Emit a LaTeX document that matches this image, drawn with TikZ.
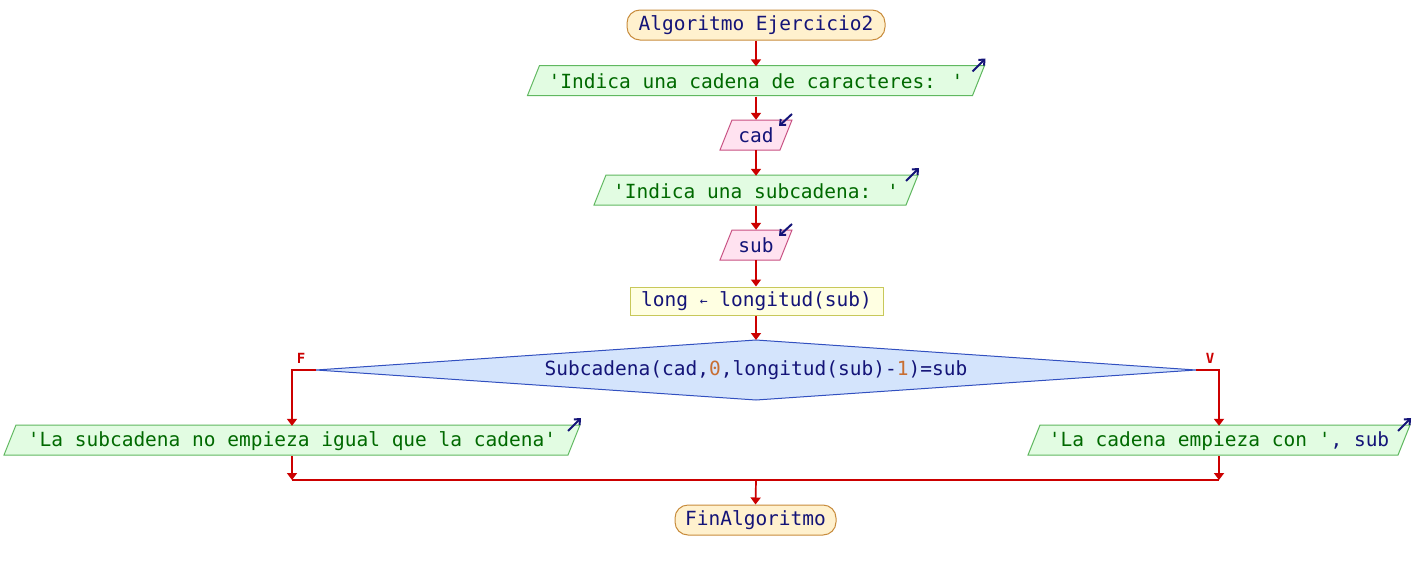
\documentclass[tikz,border=0pt]{standalone}
\usepackage{fontspec}
\newfontfamily\codefont{DejaVu Sans Mono}
\usetikzlibrary{arrows.meta}

\definecolor{termfill}{RGB}{255,241,206}
\definecolor{termdraw}{RGB}{200,140,60}
\definecolor{outfill}{RGB}{226,252,226}
\definecolor{outdraw}{RGB}{96,184,96}
\definecolor{infill}{RGB}{255,226,240}
\definecolor{indraw}{RGB}{200,80,130}
\definecolor{asgfill}{RGB}{255,255,226}
\definecolor{asgdraw}{RGB}{200,200,90}
\definecolor{decfill}{RGB}{212,228,252}
\definecolor{decdraw}{RGB}{50,80,192}
\definecolor{flowred}{RGB}{204,0,0}
\definecolor{codenavy}{RGB}{20,20,120}
\definecolor{codegreen}{RGB}{0,105,0}
\definecolor{codenum}{RGB}{200,110,50}

\tikzset{
  txt/.style={font=\codefont\fontsize{19.5}{22}\selectfont, inner sep=0pt},
  term/.style={txt, text=codenavy, draw=termdraw, fill=termfill, line width=1pt,
    rounded corners=13pt, minimum height=30pt},
  asg/.style={txt, text=codenavy, draw=asgdraw, fill=asgfill, line width=1pt,
    minimum height=28pt},
  iotext/.style={txt, minimum height=30pt},
  outbox/.style={draw=outdraw, fill=outfill, line width=1pt},
  inbox/.style={draw=indraw, fill=infill, line width=1pt},
  decision/.style={draw=decdraw, fill=decfill, line width=1pt},
  icon/.style={draw=codenavy, line width=2pt, -{Straight Barb[length=4.5pt,width=8pt]}},
  wire/.style={draw=flowred, line width=1.7pt},
  flow/.style={wire, -{Triangle[length=7pt,width=10pt]}},
  branch/.style={font=\codefont\bfseries\fontsize{14}{14}\selectfont, text=flowred, inner sep=0pt}
}

% output parallelogram: name, cx, cy, half width, text
\newcommand\outshape[5]{%
  \path[outbox] (#2-#4-6,#3+15) -- (#2-#4+6,#3-15) -- (#2+#4+6,#3-15) -- (#2+#4-6,#3+15) -- cycle;
  \node[iotext, minimum width=2*#4] (#1) at (#2,#3+1) {#5};
  \draw[icon] (#2+#4-6,#3-9) -- (#2+#4+7,#3-22);
}
% input parallelogram: name, cx, cy, half width, text
\newcommand\inshape[5]{%
  \path[inbox] (#2-#4-6,#3+15) -- (#2-#4+6,#3-15) -- (#2+#4+6,#3-15) -- (#2+#4-6,#3+15) -- cycle;
  \node[iotext, text=codenavy, minimum width=2*#4] (#1) at (#2,#3) {#5};
  \draw[icon] (#2+#4+6,#3-21) -- (#2+#4-7,#3-9);
}

\begin{document}
\begin{tikzpicture}[x=1pt,y=-1pt]
  \useasboundingbox[fill=white] (0,0) rectangle (1416,570);

  \node[term, minimum width=258pt] (start) at (756,25) {Algoritmo Ejercicio2};

  \outshape{askcad}{756}{80.5}{222.5}{\textcolor{codegreen}{'Indica una cadena de caracteres: '}}
  \inshape{readcad}{756}{135}{30}{cad}
  \outshape{asksub}{756}{190}{156}{\textcolor{codegreen}{'Indica una subcadena: '}}
  \inshape{readsub}{756}{245}{30}{sub}

  \node[asg, minimum width=253pt] (len) at (756.5,301) {long \raisebox{1pt}{\fontsize{13}{13}\selectfont←} longitud(sub)};

  % decision diamond
  \path[decision] (316,370) -- (756,340) -- (1196,370) -- (756,400) -- cycle;
  \coordinate (condw) at (316,370);
  \coordinate (conde) at (1196,370);
  \coordinate (condn) at (756,340);
  \node[txt, text=codenavy] (cond) at (756,370)
    {Subcadena(cad,\textcolor{codenum}{0},longitud(sub)-\textcolor{codenum}{1})=sub};
  \node[branch] (flab) at (301,358) {F};
  \node[branch] (vlab) at (1210,358) {V};

  \outshape{nomatch}{292}{440}{282}{\textcolor{codegreen}{'La subcadena no empieza igual que la cadena'}}
  \outshape{match}{1219}{440}{185}{\textcolor{codegreen}{'La cadena empieza con '}\textcolor{codenavy}{, sub}}

  \coordinate (join) at (756,480);
  \node[term, minimum width=161pt] (finish) at (755.5,520) {FinAlgoritmo};

  % connectors
  \draw[flow] (start.south) -- (askcad.north);
  \draw[flow] (askcad.south) -- (readcad.north);
  \draw[flow] (readcad.south) -- (asksub.north);
  \draw[flow] (asksub.south) -- (readsub.north);
  \draw[flow] (readsub.south) -- (len.north -| readsub.south);
  \draw[flow] (len.south -| condn) -- (condn);
  \draw[flow] (condw) -| (nomatch.north);
  \draw[flow] (conde) -| (match.north);
  \draw[flow] (nomatch.south) -- (nomatch.south |- join);
  \draw[flow] (match.south) -- (match.south |- join);
  \draw[wire] (nomatch.south |- join) -- (match.south |- join);
  \draw[flow] (join) -- (finish.north);
\end{tikzpicture}
\end{document}
